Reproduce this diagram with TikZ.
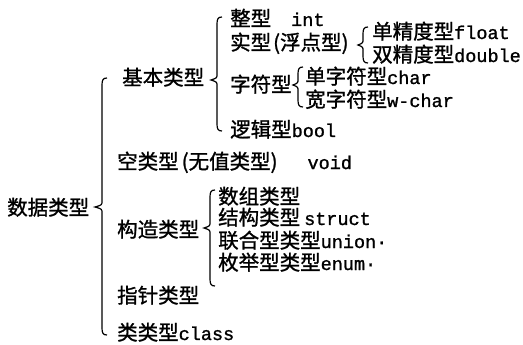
\documentclass[tikz,border=0pt]{standalone}
\usepackage{fontspec}
\setmainfont{Noto Sans CJK SC}
\setmonofont[FakeBold=1.2]{Liberation Mono}
\newfontfamily\cjk[FakeBold=1.2]{Noto Sans CJK SC}
\newcommand{\lat}[1]{{\ttfamily\fontsize{18.5}{18.5}\selectfont #1}}
\newcommand{\mybrace}[5]{% x, top, mid, bot, tipx
  \draw[bracestyle] (#1+5,#2) .. controls (#1+1,#2) and (#1,#2+2) .. (#1,#2+7)
    -- (#1,#3-6) .. controls (#1,#3-2) .. (#5,#3)
    .. controls (#1,#3+2) .. (#1,#3+6)
    -- (#1,#4-7) .. controls (#1,#4-2) and (#1+1,#4) .. (#1+5,#4);}
\tikzset{
  lbl/.style={anchor=base west, inner sep=0pt, font=\cjk\fontsize{20.5}{20.5}\selectfont},
  bracestyle/.style={line width=1.2pt, black},
}
\begin{document}
\begin{tikzpicture}[x=1pt,y=-1pt]
\useasboundingbox (0,0) rectangle (523,345);
% level 0
\node[lbl] (root) at (7,215) {数据类型};
\mybrace{102}{78}{207}{335}{95}
% level 1
\node[lbl] (basic) at (122,85) {基本类型};
\node[lbl] (void) at (117,169) {空类型\hspace{3pt}(无值类型)\hspace{30pt}\lat{void}};
\node[lbl] (struct) at (117,237) {构造类型};
\node[lbl] (ptr) at (117,303) {指针类型};
\node[lbl] (cls) at (117,340) {类类型\lat{class}};
% basic types
\mybrace{217}{17}{80}{131}{211}
\node[lbl] (int) at (230,26) {整型\hspace{20pt}\lat{int}};
\node[lbl] (real) at (230,50) {实型\hspace{2pt}(浮点型)};
\node[lbl] (chr) at (230,92) {字符型};
\node[lbl] (bool) at (230,137) {逻辑型\lat{bool}};
% real
\mybrace{363}{27}{45}{63}{358}
\node[lbl] (flt) at (372,39) {单精度型\lat{float}};
\node[lbl] (dbl) at (372,62) {双精度型\lat{double}};
% char
\mybrace{298}{67}{85}{107}{293}
\node[lbl] (sc) at (305,84) {单字符型\lat{char}};
\node[lbl] (wc) at (305,107) {宽字符型\lat{w-char}};
% constructed
\mybrace{210}{190}{228}{286}{204}
\node[lbl] (arr) at (218,204) {数组类型};
\node[lbl] (stc) at (218,225) {结构类型\hspace{4pt}\lat{struct}};
\node[lbl] (uni) at (218,248) {联合型类型\lat{union·}};
\node[lbl] (enm) at (218,270) {枚举型类型\lat{enum·}};
\end{tikzpicture}
\end{document}
